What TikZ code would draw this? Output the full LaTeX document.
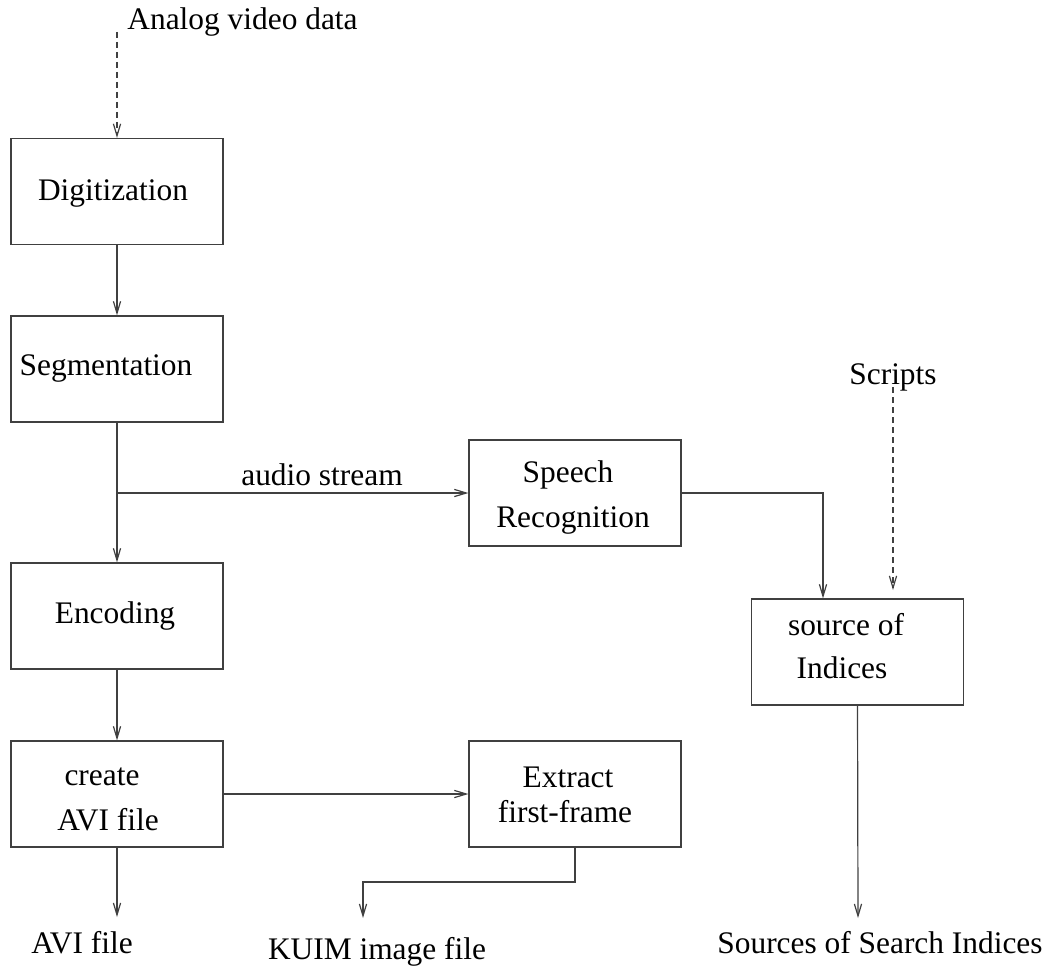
\documentclass[tikz,border=0pt]{standalone}
\usepackage{fontspec}
\setmainfont{Liberation Serif}
\usetikzlibrary{arrows.meta,calc}

\tikzset{
  stage/.style={draw=black!75, line width=0.6pt, rectangle, minimum width=106pt,
                minimum height=53pt, inner sep=0pt},
  txt/.style={font=\fontsize{15.7pt}{18pt}\selectfont, inner sep=0pt, text=black},
  flow/.style={draw=black!75, line width=0.6pt,
               -{Straight Barb[length=6pt, width=3.6pt, line width=0.6pt]}},
  feed/.style={flow, dash pattern=on 3pt off 2pt},
  link/.style={draw=black!75, line width=0.6pt}
}

\begin{document}
\begin{tikzpicture}[x=0.5pt, y=-0.5pt]
  \useasboundingbox (0,0) rectangle (1052,972);

  % processing stages
  \node[stage] (dig) at (117,191.5) {};
  \node[stage] (seg) at (117,369) {};
  \node[stage] (enc) at (117,616) {};
  \node[stage] (avi) at (117,794) {};
  \node[stage] (spr) at (575,493) {};
  \node[stage] (ext) at (575,794) {};
  \node[stage] (src) at (857.5,652) {};

  % stage captions
  \node[txt] (digT) at (113,193) {Digitization};
  \node[txt] (segT) at (106,368) {Segmentation};
  \node[txt] (encT) at (115,616) {Encoding};
  \node[txt] (aviA) at (102,777) {create};
  \node[txt] (aviB) at (108,820) {AVI file};
  \node[txt] (sprA) at (568,475) {Speech};
  \node[txt] (sprB) at (573,520) {Recognition};
  \node[txt] (extA) at (568,777) {Extract};
  \node[txt] (extB) at (565,812) {first-frame};
  \node[txt] (srcA) at (846,625) {source of};
  \node[txt] (srcB) at (842,668) {Indices};

  % inputs and outputs
  \node[txt, anchor=west] (analog) at (127,22) {Analog video data};
  \node[txt] (scripts) at (893,377) {Scripts};
  \node[txt] (audio) at (322,475) {audio stream};
  \node[txt] (aviout) at (82,943) {AVI file};
  \node[txt] (kuim) at (377,952) {KUIM image file};
  \node[txt] (ssi) at (880,943) {Sources of Search Indices};

  \coordinate (analogOut) at (117,32);
  \coordinate (scriptsOut) at (893,387);
  \coordinate (scriptsIn) at (893,590);
  \coordinate (aviIn) at (117,917);
  \coordinate (kuimIn) at (363,918);
  \coordinate (ssiIn) at (858,918);

  % main video pipeline
  \draw[feed] (analogOut) -- (dig.north);
  \draw[flow] (dig.south) -- (seg.north);
  \draw[flow] (seg.south) -- (enc.north);
  \draw[flow] (enc.south) -- (avi.north);
  \draw[flow] (avi.south) -- (aviIn);

  % audio branch
  \draw[flow] (seg.south |- spr.west) -- (spr.west);
  \draw[flow] (spr.east) -| ($(src.north)+(-34.5,0)$);
  \draw[feed] (scriptsOut) -- (scriptsIn);
  \draw[flow] (src.south) -- (ssiIn);

  % first-frame extraction
  \draw[flow] (avi.east) -- (ext.west);
  \draw[flow] (ext.south) |- ($(kuimIn)+(0,-36)$) -- (kuimIn);
\end{tikzpicture}
\end{document}
